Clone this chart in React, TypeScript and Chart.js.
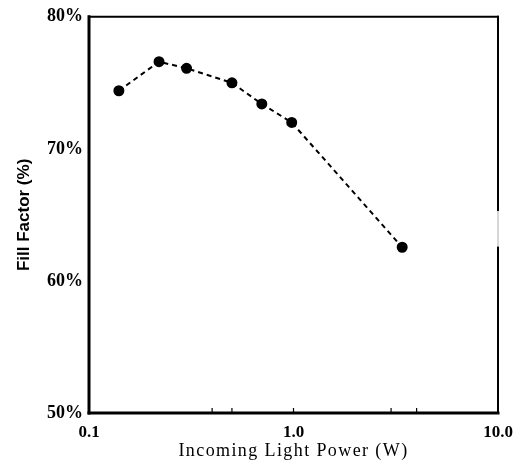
import React, { useEffect, useRef } from 'react';
import { Chart, registerables } from 'chart.js';

Chart.register(...registerables);

const lightPowerW = [0.14, 0.22, 0.3, 0.5, 0.7, 0.98, 3.4];
const fillFactorPct = [74.4, 76.6, 76.1, 75.0, 73.4, 72.0, 62.55];
const xTickValues = [0.1, 1, 10];
const xTickLabels = ['0.1', '1.0', '10.0'];
const xMinorTicks = [0.4, 0.5, 1, 3, 4];
const yTickValues = [50, 60, 70, 80];
const xTitle = 'Incoming Light Power (W)';
const yTitle = 'Fill Factor (%)';
// faded stretch of the right frame edge (in y-axis units)
const rightEdgeGap = [65.3, 62.6];

export default function App() {
  const ref = useRef<HTMLCanvasElement>(null);

  useEffect(() => {
    document.body.style.margin = '0';
    const canvas = ref.current;
    if (!canvas) return;

    const framePlugin = {
      id: 'frame',
      beforeDraw(chart: any) {
        const s = chart.scales.x;
        if (s && !s._lsPatched) {
          const orig = s.drawTitle;
          s.drawTitle = function (...args: any[]) {
            const c = this.ctx;
            c.save();
            (c as any).letterSpacing = '1.4px';
            orig.apply(this, args);
            c.restore();
          };
          s._lsPatched = true;
        }
      },
      afterDraw(chart: any) {
        const { ctx, chartArea: a } = chart;
        const xs = chart.scales.x;
        const ys = chart.scales.y;
        ctx.save();
        ctx.strokeStyle = '#000';
        ctx.lineCap = 'square';
        const seg = (x1: number, y1: number, x2: number, y2: number, w: number) => {
          ctx.lineWidth = w;
          ctx.beginPath();
          ctx.moveTo(x1, y1);
          ctx.lineTo(x2, y2);
          ctx.stroke();
        };
        const gTop = ys.getPixelForValue(rightEdgeGap[0]);
        const gBot = ys.getPixelForValue(rightEdgeGap[1]);
        seg(a.left, a.top, a.right, a.top, 2);
        ctx.lineCap = 'butt';
        seg(a.right, a.top - 1, a.right, gTop, 2);
        seg(a.right, gBot, a.right, a.bottom, 2);
        ctx.strokeStyle = '#999';
        seg(a.right, gTop, a.right, gBot, 0.8);
        ctx.strokeStyle = '#000';
        ctx.lineCap = 'square';
        seg(a.left, a.bottom, a.right, a.bottom, 3);
        seg(a.left, a.top, a.left, a.bottom, 3);
        ctx.lineCap = 'butt';
        for (const v of xMinorTicks) {
          const px = xs.getPixelForValue(v);
          seg(px, a.bottom, px, a.bottom - 5, 1.2);
        }
        ctx.restore();
      },
    };

    const chart = new Chart(canvas, {
      type: 'line',
      data: {
        datasets: [
          {
            data: lightPowerW.map((x, i) => ({ x, y: fillFactorPct[i] })),
            borderColor: '#000',
            backgroundColor: '#000',
            borderWidth: 2,
            borderDash: [5, 4],
            pointRadius: 4.5,
            pointStyle: 'circle',
            pointBackgroundColor: '#000',
            pointBorderColor: '#000',
            fill: false,
            tension: 0,
          },
        ],
      },
      options: {
        animation: false,
        responsive: false,
        devicePixelRatio: 1,
        layout: { padding: { top: 15, right: 26, bottom: 0, left: 0 } },
        plugins: {
          legend: { display: false },
          tooltip: { enabled: false },
        },
        scales: {
          x: {
            type: 'logarithmic',
            min: 0.1,
            max: 10,
            afterFit(scale: any) {
              scale.height = 56;
            },
            afterBuildTicks(scale: any) {
              scale.ticks = xTickValues.map((v) => ({ value: v }));
            },
            grid: { display: false, drawTicks: false },
            border: { display: false },
            ticks: {
              padding: 9,
              color: '#000',
              maxRotation: 0,
              autoSkip: false,
              font: { family: "'Liberation Serif', serif", size: 17, weight: 'bold' },
              callback: (v: any) => {
                const i = xTickValues.indexOf(Number(v));
                return i >= 0 ? xTickLabels[i] : '';
              },
            },
            title: {
              display: true,
              text: xTitle,
              color: '#000',
              padding: { top: 0, bottom: 7 },
              font: { family: "'Liberation Serif', serif", size: 18, weight: 'normal' },
            },
          },
          y: {
            min: 50,
            max: 80,
            afterFit(scale: any) {
              scale.width = 89;
            },
            afterBuildTicks(scale: any) {
              scale.ticks = yTickValues.map((v) => ({ value: v }));
            },
            grid: { display: false, drawTicks: false },
            border: { display: false },
            ticks: {
              padding: 6,
              color: '#000',
              font: { family: "'Liberation Serif', serif", size: 18, weight: 'bold' },
              callback: (v: any) => `${v}%`,
            },
            title: {
              display: true,
              text: yTitle,
              color: '#000',
              padding: { top: 14, bottom: 0 },
              font: { family: "'Liberation Sans', Arial, sans-serif", size: 17, weight: 'bold' },
            },
          },
        },
      },
      plugins: [framePlugin],
    } as any);

    return () => chart.destroy();
  }, []);

  return (
    <div style={{ width: 524, height: 469, background: '#fff' }}>
      <canvas ref={ref} width={524} height={469} style={{ display: 'block' }} />
    </div>
  );
}
